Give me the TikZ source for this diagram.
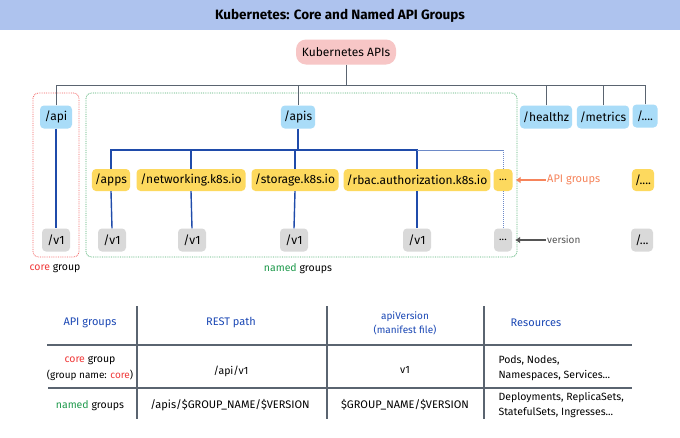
\documentclass[tikz,border=0pt]{standalone}
\usepackage{fontspec}
\setmainfont{Fira Sans}
\usetikzlibrary{arrows.meta}
\definecolor{titlebg}{HTML}{AEC3EE}
\definecolor{pinkbg}{HTML}{F7C6C6}
\definecolor{bluebg}{HTML}{A9DCF8}
\definecolor{yellowbg}{HTML}{FDD95E}
\definecolor{graybg}{HTML}{D9D9D9}
\definecolor{darkline}{HTML}{5A6470}
\definecolor{blueline}{HTML}{1F4BAA}
\definecolor{hdrblue}{HTML}{1B48B5}
\definecolor{corered}{HTML}{F03A3A}
\definecolor{namedgreen}{HTML}{1E9A4C}
\definecolor{orangearr}{HTML}{F6845B}
\definecolor{arrgray}{HTML}{555555}
\tikzset{
  box/.style={rounded corners=4pt, minimum height=23pt, inner xsep=3pt, inner ysep=2pt, font=\fontsize{12}{13}\selectfont},
  rootbox/.style={box, fill=pinkbg, rounded corners=10pt, minimum height=25pt, minimum width=100pt},
  pathbox/.style={box, fill=bluebg},
  grpbox/.style={box, fill=yellowbg, minimum height=22pt},
  verbox/.style={box, fill=graybg, minimum height=23pt, minimum width=28pt},
  dotsbox/.style={font=\fontsize{10.5}{11}\selectfont, inner xsep=2pt},
  trunk/.style={draw=darkline, line width=1pt},
  branch/.style={draw=blueline, line width=1.4pt},
  thin/.style={draw=blueline!65, line width=1pt},
  tline/.style={draw=darkline, line width=1.1pt},
  hdr/.style={text=hdrblue, font=\fontsize{11}{12.5}\selectfont, align=center},
  cell/.style={font=\fontsize{10.5}{13}\selectfont, align=center},
}
\begin{document}
\begin{tikzpicture}[x=1pt,y=-1pt]
\useasboundingbox (0,0) rectangle (680,437);
\fill[white] (0,0) rectangle (680,437);
\fill[titlebg] (0,0) rectangle (680,30);
\node (title) at (340,15.5) {\fontsize{13.5}{15}\selectfont\bfseries Kubernetes: Core and Named API Groups};

% group frames
\draw[corered!80, densely dotted, line width=0.8pt, rounded corners=5pt] (33,93) rectangle (79,257);
\draw[namedgreen!80, densely dotted, line width=0.8pt, rounded corners=5pt] (86,93) rectangle (517,257);

% top level
\node[rootbox] (root) at (346,52) {Kubernetes APIs};
\node[pathbox, minimum width=32pt] (api) at (56,117) {/api};
\node[pathbox, minimum width=34pt] (apis) at (298,117) {/apis};
\node[pathbox, minimum width=51pt] (healthz) at (546,117) {/healthz};
\node[pathbox, minimum width=52pt] (metrics) at (603,117) {/metrics};
\node[pathbox, minimum width=25pt] (other) at (645,116) {/....};

\coordinate (hub) at (346,85);
\draw[trunk] (root.south) -- (hub);
\draw[trunk] (api.north) |- (hub);
\draw[trunk] (apis.north) |- (hub);
\draw[trunk] (healthz.north) |- (hub);
\draw[trunk] (metrics.north) |- (hub);
\draw[trunk] (other.north) |- (hub);

% API groups
\node[grpbox, minimum width=38pt] (apps) at (111,180) {/apps};
\node[grpbox, minimum width=109pt] (net) at (191,180) {/networking.k8s.io};
\node[grpbox, minimum width=87pt] (stor) at (295,180) {/storage.k8s.io};
\node[grpbox, minimum width=142pt] (rbac) at (417,180) {/rbac.authorization.k8s.io};
\node[grpbox, dotsbox, minimum width=19pt] (gdots) at (503,180) {...};
\node[grpbox, minimum width=22pt] (gfar) at (643,180) {/....};

% versions
\node[verbox] (v1core) at (56,240) {/v1};
\node[verbox] (v1apps) at (112,240) {/v1};
\node[verbox] (v1net) at (192,240) {/v1};
\node[verbox] (v1stor) at (294,240) {/v1};
\node[verbox] (v1rbac) at (417,240) {/v1};
\node[verbox, dotsbox, minimum width=18pt] (vdots) at (503,240) {...};
\node[verbox, minimum width=22pt] (vfar) at (642,240) {/...};

\draw[branch] (api.south) -- (v1core.north);
\coordinate (ghub) at (298,150);
\coordinate (gend) at (503,150);
\draw[branch] (apis.south) -- (ghub);
\draw[branch] (apps.north) |- (ghub);
\draw[branch] (net.north) |- (ghub);
\draw[branch] (stor.north) |- (ghub);
\draw[branch] (rbac.north) |- (ghub);
\draw[thin] (rbac.north |- ghub) -- (gend);
\draw[thin, densely dotted] (gend) -- (gdots.north);
\draw[thin, densely dotted] (gdots.south) -- (vdots.north);
\draw[branch] (apps.south) -- (v1apps.north);
\draw[branch] (net.south) -- (v1net.north);
\draw[branch] (stor.south) -- (v1stor.north);
\draw[branch] (rbac.south) -- (v1rbac.north);

% annotations
\node[anchor=west, text=orangearr, font=\fontsize{11}{12}\selectfont, inner xsep=1pt] (lblgrp) at (546,180) {API groups};
\draw[orangearr, line width=1.8pt, -{Latex[length=5pt,width=7pt]}] (lblgrp.west) -- ([xshift=3pt]gdots.east);
\node[anchor=west, text=arrgray, font=\fontsize{10}{11}\selectfont, inner xsep=1pt] (lblver) at (546,240) {version};
\draw[arrgray, line width=1.8pt, -{Latex[length=5pt,width=7pt]}] (lblver.west) -- ([xshift=3pt]vdots.east);

\node[font=\fontsize{10.5}{12}\selectfont] (corelbl) at (55,269) {\textcolor{corered}{core} group};
\node[font=\fontsize{10.5}{12}\selectfont] (namedlbl) at (298,269) {\textcolor{namedgreen}{named} groups};

% table
\coordinate (c1t) at (137,306); \coordinate (c1b) at (137,419);
\coordinate (c2t) at (327,306); \coordinate (c2b) at (327,419);
\coordinate (c3t) at (484,306); \coordinate (c3b) at (484,419);
\coordinate (r1l) at (47,345); \coordinate (r1r) at (632,345);
\coordinate (r2l) at (48,388); \coordinate (r2r) at (632,388);
\draw[tline] (c1t) -- (c1b);
\draw[tline] (c2t) -- (c2b);
\draw[tline] (c3t) -- (c3b);
\draw[tline] (r1l) -- (r1r);
\draw[tline] (r2l) -- (r2r);

\node[hdr] (h1) at (90,323) {API groups};
\node[hdr] (h2) at (231,323) {REST path};
\node[hdr, font=\fontsize{10}{14}\selectfont] (h3) at (405,323) {apiVersion\\(manifest file)};
\node[hdr] (h4) at (536,323) {Resources};

\node[cell, font=\fontsize{10.5}{16}\selectfont] (a1) at (90,368) {\textcolor{corered}{core} group\\{\fontsize{10}{10}\selectfont(group name: \textcolor{corered}{core})}};
\node[cell] (a2) at (231,371) {/api/v1};
\node[cell] (a3) at (405,370) {v1};
\node[cell, align=left, anchor=west, font=\fontsize{10.5}{15}\selectfont] (a4) at (495,368) {Pods, Nodes,\\Namespaces, Services...};

\node[cell] (b1) at (90,406) {\textcolor{namedgreen}{named} groups};
\node[cell, font=\fontsize{11}{12}\selectfont] (b2) at (230,405) {/apis/\$GROUP\_NAME/\$VERSION};
\node[cell, font=\fontsize{11}{12}\selectfont] (b3) at (405,405) {\$GROUP\_NAME/\$VERSION};
\node[cell, align=left, anchor=west, font=\fontsize{10.5}{15}\selectfont] (b4) at (495,405) {Deployments, ReplicaSets,\\StatefulSets, Ingresses...};
\end{tikzpicture}
\end{document}
